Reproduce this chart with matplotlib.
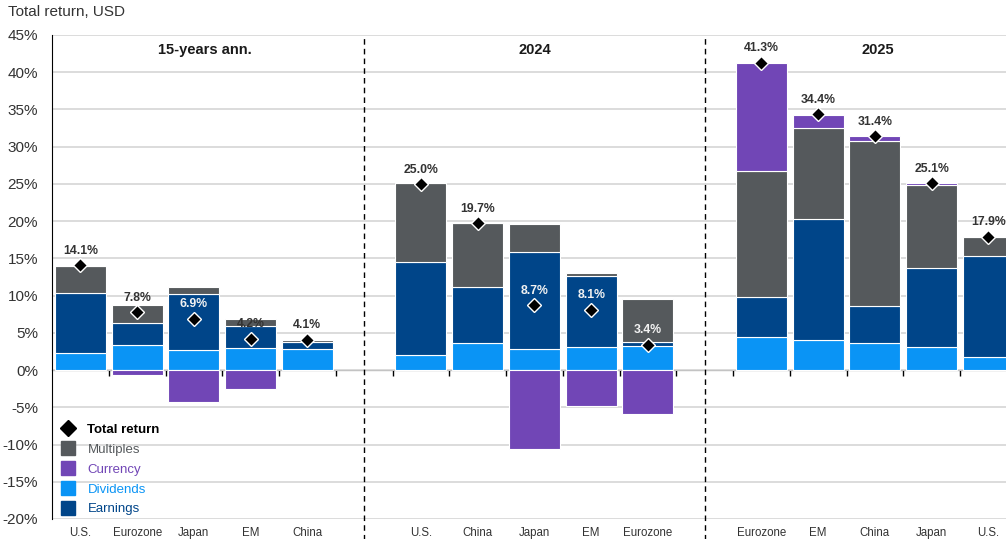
import numpy as np
import matplotlib.pyplot as plt
from matplotlib.lines import Line2D

plt.rcParams['font.family'] = ['Liberation Sans', 'DejaVu Sans']

groups = ["15-years ann.", "2024", "2025"]
countries = [
    ["U.S.", "Eurozone", "Japan", "EM", "China"],
    ["U.S.", "China", "Japan", "EM", "Eurozone"],
    ["Eurozone", "EM", "China", "Japan", "U.S."],
]
dividends = [[2.3, 3.4, 2.7, 3.0, 2.8],
             [2.0, 3.6, 2.8, 3.1, 3.3],
             [4.4, 4.1, 3.7, 3.1, 1.8]]
earnings = [[8.0, 2.9, 7.5, 2.9, 1.0],
            [12.5, 7.5, 13.0, 9.6, 0.5],
            [5.45, 16.2, 4.9, 10.65, 13.5]]
multiples = [[3.7, 2.5, 1.0, 0.95, 0.2],
             [10.6, 8.6, 3.8, 0.4, 5.8],
             [16.85, 12.2, 22.15, 11.05, 2.6]]
currency = [[0.0, -0.7, -4.3, -2.5, 0.0],
            [0.0, 0.0, -10.6, -4.8, -5.95],
            [14.6, 1.8, 0.65, 0.3, 0.0]]
total = [[14.1, 7.8, 6.9, 4.2, 4.1],
         [25.0, 19.7, 8.7, 8.1, 3.4],
         [41.3, 34.4, 31.4, 25.1, 17.9]]

series = [("Dividends", dividends, "#0A94F5"),
          ("Earnings", earnings, "#004589"),
          ("Multiples", multiples, "#55595C"),
          ("Currency", currency, "#7146B6")]

fig = plt.figure(figsize=(10.06, 5.39), dpi=100)
ax = fig.add_axes([52 / 1006, 20 / 539, 1 - 52 / 1006, 484 / 539])

# slot positions: 5 bars per group with one empty slot between groups
pos = []
for g in range(len(groups)):
    pos.append(np.arange(5) + g * 6)
all_pos = np.concatenate(pos)

ax.set_xlim(-0.5, 16.31)
ax.set_ylim(-20, 45)
ax.set_yticks(np.arange(-20, 46, 5))
ax.set_yticklabels([f"{v}%" for v in range(-20, 46, 5)])
ax.yaxis.grid(True, color="#D9D9D9", linewidth=1.3)
ax.set_axisbelow(True)

for g in range(len(groups)):
    up = np.zeros(5)
    down = np.zeros(5)
    for name, vals, col in series:
        v = np.array(vals[g], dtype=float)
        bottom = np.where(v >= 0, up, down)
        ax.bar(pos[g], v, 0.9, bottom=bottom, color=col,
               edgecolor="white", linewidth=0.8, zorder=2)
        up = up + np.clip(v, 0, None)
        down = down + np.clip(v, None, 0)
    ax.plot(pos[g], total[g], "D", color="black", markersize=7.5,
            markeredgecolor="white", markeredgewidth=1, zorder=4)
    for x, t, top in zip(pos[g], total[g], up):
        inside = t + 3 < top
        ax.annotate(f"{t:.1f}%", (x, t), xytext=(0, 6), textcoords="offset points",
                    ha="center", va="bottom", fontsize=8.8, fontweight="bold",
                    color="#F2F2F2" if inside else "#333333", zorder=5)

ax.set_xticks(all_pos)
ax.set_xticklabels([c for grp in countries for c in grp])
ax.tick_params(axis="x", length=0, pad=5.5, labelsize=8.3, labelcolor="#333333")
ax.tick_params(axis="y", length=0, pad=10, labelsize=11, labelcolor="#333333")

for s in ["top", "right", "bottom"]:
    ax.spines[s].set_visible(False)
ax.spines["left"].set_color("black")

# zero line with ticks between bars
zero = ax.secondary_xaxis(20 / 65)
zero.set_xticks(np.arange(0.5, 16, 1.0))
zero.set_xticklabels([])
zero.tick_params(length=4, width=1, color="black")
zero.spines["bottom"].set_color("black")

# group separators and titles
for xsep in [5, 11]:
    ax.axvline(xsep, ymin=-0.045, ymax=1, color="black", linestyle=(0, (4, 3)),
               linewidth=1, clip_on=False, zorder=3)
for xt, name in zip([2.2, 8, 14.05], groups):
    ax.text(xt, 0.969, name, transform=ax.get_xaxis_transform(), ha="center",
            va="center", fontsize=10.5, fontweight="bold", color="#1a1a1a")

fig.text(8 / 1006, 1 - 12 / 539, "Total return, USD", fontsize=11,
         va="center", ha="left", color="#333333")

handles = [Line2D([], [], marker="D", color="black", linestyle="none", markersize=8)]
labels = ["Total return"]
for name, vals, col in [series[2], series[3], series[0], series[1]]:
    handles.append(Line2D([], [], marker="s", color=col, linestyle="none", markersize=9.5))
    labels.append(name)
leg = ax.legend(handles, labels, loc="upper left", bbox_to_anchor=(0.006, 0.197),
                frameon=False, fontsize=9.5, borderpad=0, borderaxespad=0,
                labelspacing=0.58, handletextpad=0.75, handlelength=1.5)
for txt, col in zip(leg.get_texts(), ["black", "#55595C", "#7146B6", "#0A94F5", "#004589"]):
    txt.set_color(col)
leg.get_texts()[0].set_fontweight("bold")

fig.savefig("out.png", dpi=100)
